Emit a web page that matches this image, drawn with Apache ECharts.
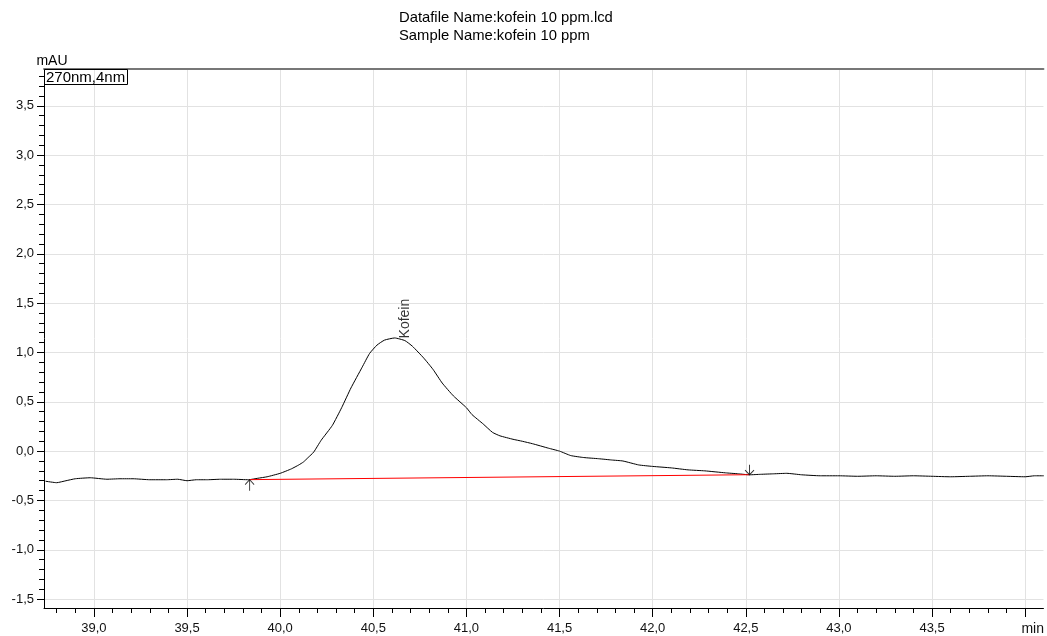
<!DOCTYPE html>
<html><head><meta charset="utf-8">
<script src="https://cdn.jsdelivr.net/npm/echarts@6/dist/echarts.min.js"></script>
<style>html,body{margin:0;padding:0;background:#fff}#c{width:1047px;height:636px}</style>
</head><body><div id="c"></div>
<script>
const titleLines = ['Datafile Name:kofein 10 ppm.lcd', 'Sample Name:kofein 10 ppm'];
const channelLabel = '270nm,4nm';
const yUnit = 'mAU';
const xUnit = 'min';
const peakName = 'Kofein';

const xMajorTicks = [39.0, 39.5, 40.0, 40.5, 41.0, 41.5, 42.0, 42.5, 43.0, 43.5, 44.0];
const xTickLabels = [39.0, 39.5, 40.0, 40.5, 41.0, 41.5, 42.0, 42.5, 43.0, 43.5];
const yMajorTicks = [-1.5, -1.0, -0.5, 0.0, 0.5, 1.0, 1.5, 2.0, 2.5, 3.0, 3.5];

const timeMin = [38.74, 38.80, 38.85, 38.90, 38.98, 39.07, 39.14, 39.21, 39.30, 39.39, 39.45, 39.50, 39.55, 39.61, 39.68, 39.75, 39.83, 39.88, 39.93, 40.00, 40.06, 40.10, 40.125, 40.15, 40.18, 40.22, 40.28, 40.33, 40.38, 40.44, 40.48, 40.52, 40.56, 40.615, 40.67, 40.71, 40.77, 40.82, 40.87, 40.93, 41.00, 41.03, 41.09, 41.14, 41.18, 41.25, 41.30, 41.355, 41.44, 41.50, 41.56, 41.63, 41.71, 41.78, 41.84, 41.925, 42.00, 42.10, 42.19, 42.28, 42.39, 42.46, 42.52, 42.58, 42.65, 42.72, 42.80, 42.90, 43.00, 43.10, 43.20, 43.30, 43.40, 43.50, 43.60, 43.70, 43.80, 43.90, 44.00, 44.05, 44.10];
const signal = [-0.305, -0.32, -0.30, -0.28, -0.27, -0.285, -0.28, -0.28, -0.29, -0.29, -0.285, -0.30, -0.29, -0.29, -0.285, -0.285, -0.29, -0.275, -0.26, -0.225, -0.18, -0.14, -0.11, -0.065, -0.01, 0.11, 0.26, 0.44, 0.64, 0.85, 0.99, 1.075, 1.125, 1.147, 1.12, 1.063, 0.945, 0.83, 0.69, 0.56, 0.44, 0.37, 0.275, 0.19, 0.155, 0.12, 0.10, 0.075, 0.03, 0.0, -0.045, -0.065, -0.077, -0.09, -0.10, -0.14, -0.155, -0.17, -0.19, -0.20, -0.22, -0.23, -0.24, -0.235, -0.23, -0.225, -0.24, -0.25, -0.25, -0.255, -0.25, -0.255, -0.25, -0.255, -0.26, -0.255, -0.25, -0.255, -0.26, -0.25, -0.25];

const baselineTime = [39.836, 42.52];
const baselineValue = [-0.289, -0.239];
const peakTime = 40.615;
const peakValue = 1.147;

const xMin = 38.732, xMax = 44.098, yMin = -1.59, yMax = 3.873;

const fmt = v => (Math.round(v * 10) / 10).toFixed(1).replace('.', ',');
const minorX = [];
for (let k = Math.ceil(xMin * 10); k <= Math.floor(xMax * 10); k++) minorX.push(k / 10);
const minorY = [];
for (let k = Math.ceil(yMin * 10); k <= Math.floor(yMax * 10); k++) minorY.push(k / 10);

const chart = echarts.init(document.getElementById('c'), null, {renderer: 'canvas'});
const FONT = '"Liberation Sans", Arial, sans-serif';

chart.setOption({
  animation: false,
  backgroundColor: '#fff',
  textStyle: {fontFamily: FONT},
  title: [
    {text: titleLines.join('\n'), left: 399, top: 9, padding: 0,
     textStyle: {fontSize: 14.8, fontWeight: 'normal', color: '#000', lineHeight: 18, fontFamily: FONT}},
    {text: channelLabel, left: 44, top: 69, padding: [1, 3, 0, 2], borderColor: '#000', borderWidth: 1,
     textStyle: {fontSize: 15, fontWeight: 'normal', color: '#000', lineHeight: 15, fontFamily: FONT}}
  ],
  grid: {left: 44, top: 69, right: 0, bottom: 24, containLabel: false},
  xAxis: [
    {type: 'value', min: xMin, max: xMax, position: 'bottom',
     name: xUnit, nameLocation: 'end', nameGap: -22,
     nameTextStyle: {fontSize: 14, color: '#111', align: 'left', verticalAlign: 'top', padding: [14, 0, 0, 0], fontFamily: FONT},
     axisLine: {show: true, onZero: false, lineStyle: {color: '#000', width: 1}},
     axisTick: {show: true, customValues: xMajorTicks, length: 9, lineStyle: {color: '#000'}},
     axisLabel: {customValues: xTickLabels, margin: 14, fontSize: 13, color: '#111', fontFamily: FONT, formatter: v => fmt(v)},
     splitLine: {show: true, lineStyle: {color: '#e2e2e2', width: 1}}},
    {type: 'value', min: xMin, max: xMax, position: 'bottom',
     axisLine: {show: false, onZero: false},
     axisTick: {show: true, customValues: minorX, length: 5, lineStyle: {color: '#000'}},
     axisLabel: {show: false}, splitLine: {show: false}},
    {type: 'value', min: xMin, max: xMax, position: 'top',
     axisLine: {show: true, onZero: false, lineStyle: {color: '#777', width: 2}},
     axisTick: {show: false}, axisLabel: {show: false}, splitLine: {show: false}}
  ],
  yAxis: [
    {type: 'value', min: yMin, max: yMax, position: 'left',
     name: yUnit, nameLocation: 'end', nameGap: 1,
     nameTextStyle: {fontSize: 14, color: '#000', align: 'center', padding: [0, 0, 0, 16], fontFamily: FONT},
     axisLine: {show: true, onZero: false, lineStyle: {color: '#000', width: 1}},
     axisTick: {show: true, customValues: yMajorTicks, length: 7, lineStyle: {color: '#000'}},
     axisLabel: {customValues: yMajorTicks, margin: 10, fontSize: 13, color: '#111', fontFamily: FONT, formatter: v => fmt(v)},
     splitLine: {show: true, lineStyle: {color: '#e2e2e2', width: 1}}},
    {type: 'value', min: yMin, max: yMax, position: 'left',
     axisLine: {show: false, onZero: false},
     axisTick: {show: true, customValues: minorY, length: 5, lineStyle: {color: '#000'}},
     axisLabel: {show: false}, splitLine: {show: false}}
  ],
  series: [
    {type: 'line', xAxisIndex: 0, yAxisIndex: 0, showSymbol: false, smooth: 0.15,
     data: timeMin.map((t, i) => [t, signal[i]]),
     lineStyle: {color: '#000', width: 1}, z: 3},
    {type: 'line', xAxisIndex: 0, yAxisIndex: 0, showSymbol: false,
     data: baselineTime.map((t, i) => [t, baselineValue[i]]),
     lineStyle: {color: '#ff0000', width: 1}, z: 4},
    {type: 'scatter', xAxisIndex: 0, yAxisIndex: 0, z: 5,
     itemStyle: {color: 'rgba(0,0,0,0)', borderColor: '#000', borderWidth: 1},
     data: [
       {value: [baselineTime[0], baselineValue[0]], symbol: 'path://M5 0 L5 11 M0 5 L5 0 L10 5', symbolSize: [9, 11], symbolOffset: [0, 5.5]},
       {value: [baselineTime[1], baselineValue[1]], symbol: 'path://M5 11 L5 0 M0 6 L5 11 L10 6', symbolSize: [9, 10], symbolOffset: [0, -5]}
     ]},
    {type: 'scatter', xAxisIndex: 0, yAxisIndex: 0, z: 6, symbolSize: 1,
     itemStyle: {color: 'rgba(0,0,0,0)'},
     data: [{value: [peakTime, peakValue], name: peakName}],
     label: {show: true, formatter: p => p.name, rotate: 90, position: [11, 1], align: 'left', verticalAlign: 'middle',
       fontSize: 14, color: '#000', fontFamily: FONT}}
  ]
});
</script></body></html>
